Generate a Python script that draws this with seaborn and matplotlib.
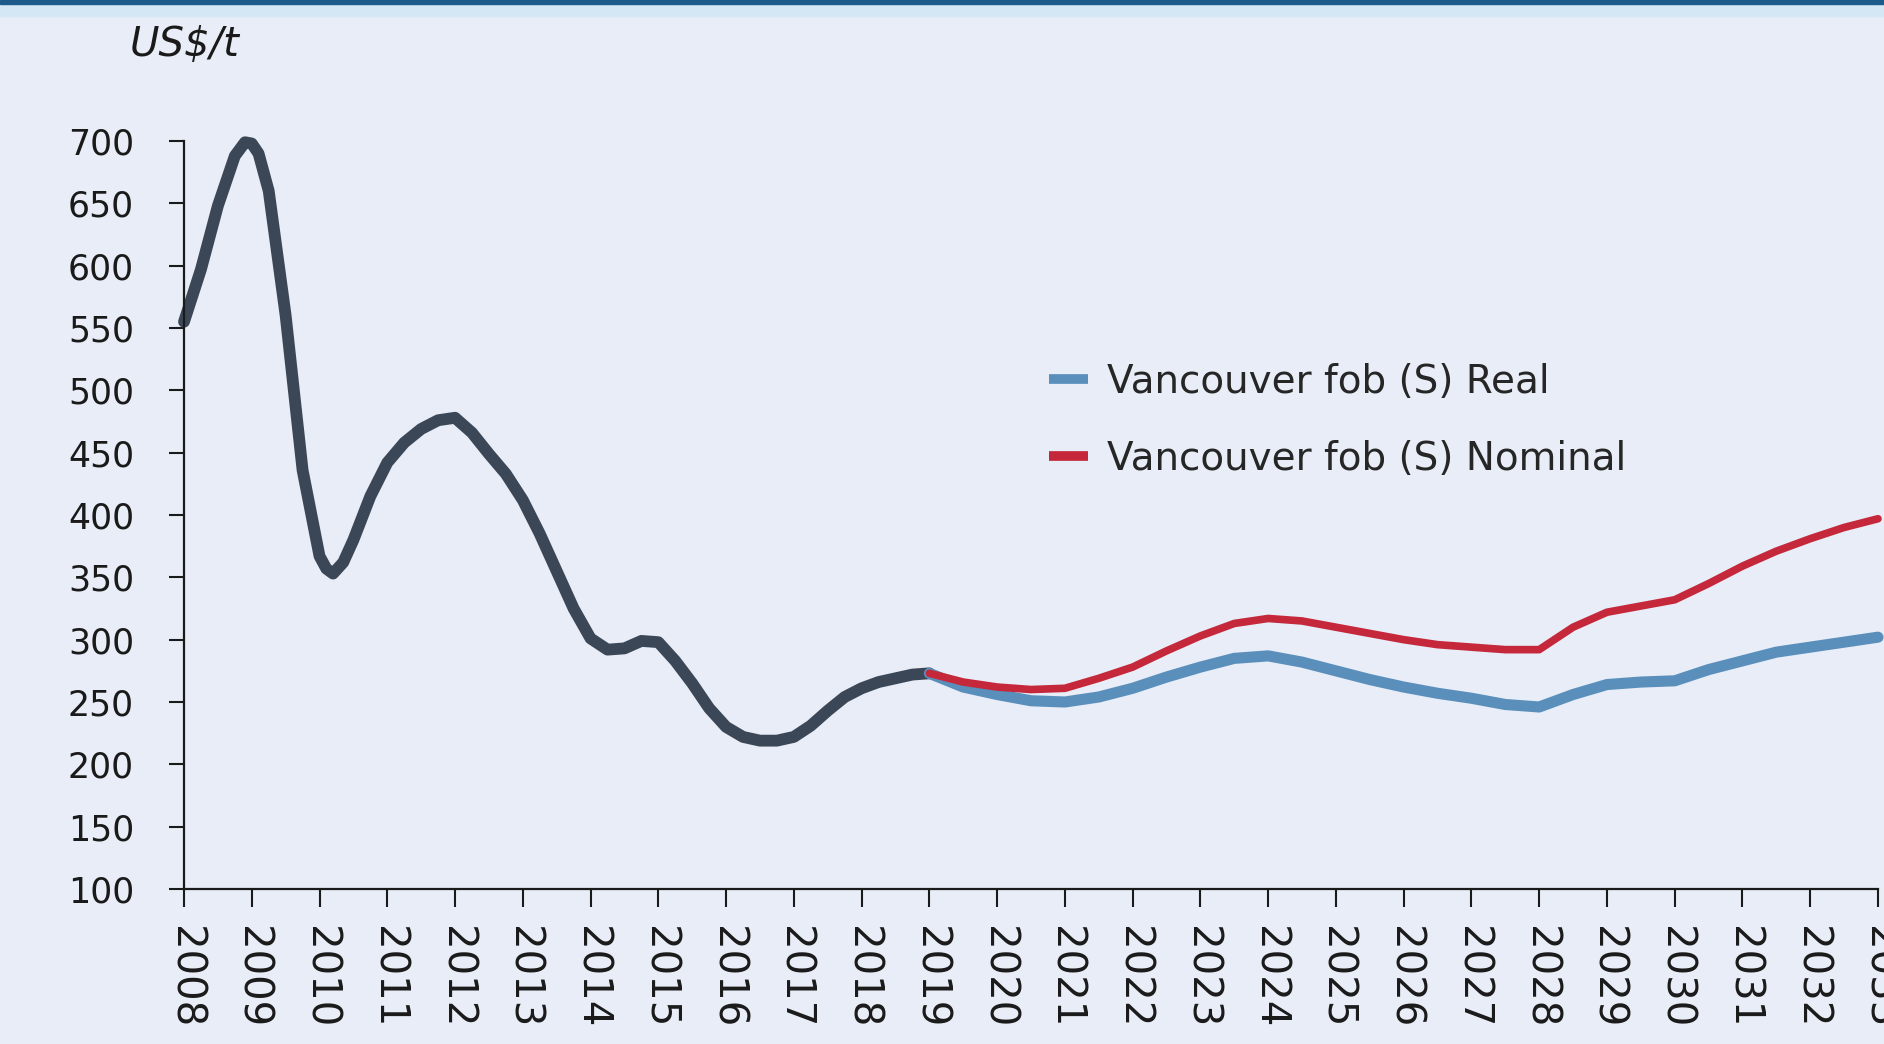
import numpy as np
import pandas as pd
import matplotlib
matplotlib.use('Agg')
import matplotlib.pyplot as plt
import seaborn as sns
from matplotlib.patches import Rectangle

# historical price (roughly quarterly, more points at the turns)
hist_year = [2008.0, 2008.25, 2008.5, 2008.75, 2008.9, 2009.0, 2009.1, 2009.25, 2009.5, 2009.75,
             2010.0, 2010.1, 2010.2, 2010.35, 2010.5, 2010.75, 2011.0, 2011.25, 2011.5, 2011.75,
             2012.0, 2012.25, 2012.5, 2012.75, 2013.0, 2013.25, 2013.5, 2013.75,
             2014.0, 2014.25, 2014.5, 2014.75, 2015.0, 2015.25, 2015.5, 2015.75,
             2016.0, 2016.25, 2016.5, 2016.75, 2017.0, 2017.25, 2017.5, 2017.75,
             2018.0, 2018.25, 2018.5, 2018.75, 2019.0]
hist_price = [555, 597, 648, 688, 699, 698, 690, 660, 560, 436,
              367, 357, 353, 362, 380, 415, 442, 458, 469, 476,
              478, 466, 449, 433, 412, 385, 355, 325,
              301, 292, 293, 299, 298, 283, 265, 245,
              230, 222, 219, 219, 222, 231, 243, 254,
              261, 266, 269, 272, 273]

# forecast (half-yearly)
fc_year = [2019.0, 2019.5, 2020.0, 2020.5, 2021.0, 2021.5, 2022.0, 2022.5,
           2023.0, 2023.5, 2024.0, 2024.5, 2025.0, 2025.5, 2026.0, 2026.5,
           2027.0, 2027.5, 2028.0, 2028.5, 2029.0, 2029.5, 2030.0, 2030.5,
           2031.0, 2031.5, 2032.0, 2032.5, 2033.0]
real_price = [273, 262, 256, 251, 250, 254, 261, 270,
              278, 285, 287, 282, 275, 268, 262, 257,
              253, 248, 246, 256, 264, 266, 267, 276,
              283, 290, 294, 298, 302]
nominal_price = [273, 266, 262, 260, 261, 269, 278, 291,
                 303, 313, 317, 315, 310, 305, 300, 296,
                 294, 292, 292, 310, 322, 327, 332, 345,
                 359, 371, 381, 390, 397]

years = list(range(2008, 2034))
yticks = list(range(100, 701, 50))

hist = pd.DataFrame({'year': hist_year, 'price': hist_price})
real = pd.DataFrame({'year': fc_year, 'price': real_price})
nominal = pd.DataFrame({'year': fc_year, 'price': nominal_price})

bg = '#e8edf7'
sns.set_theme(style='ticks')
plt.rcParams['font.family'] = ['DejaVu Sans']

fig = plt.figure(figsize=(18.84, 10.44), dpi=100, facecolor=bg)
ax = fig.add_axes([184 / 1884, 1 - 889 / 1044, 1694 / 1884, 748 / 1044])
ax.set_facecolor(bg)

# header band
fig.patches.append(Rectangle((0, 1 - 16 / 1044), 1, 16 / 1044, transform=fig.transFigure,
                             color='#d3e7f5', zorder=0))
fig.patches.append(Rectangle((0, 1 - 4 / 1044), 1, 4 / 1044, transform=fig.transFigure,
                             color='#1b5a8a', zorder=1))

sns.lineplot(data=hist, x='year', y='price', ax=ax, color='#3b4757', lw=8.5,
             solid_capstyle='round', solid_joinstyle='round')
sns.lineplot(data=real, x='year', y='price', ax=ax, color='#5a8fbc', lw=8,
             solid_capstyle='round', solid_joinstyle='round', label='Vancouver fob (S) Real')
sns.lineplot(data=nominal, x='year', y='price', ax=ax, color='#c4283a', lw=5.5,
             solid_capstyle='round', solid_joinstyle='round', label='Vancouver fob (S) Nominal')
for ln in ax.lines:
    ln.set_clip_on(False)

ax.set_xlim(2008, 2033)
ax.set_ylim(100, 700)
ax.set_xticks(years)
ax.set_xticklabels([str(y) for y in years], rotation=270, fontsize=29)
ax.set_yticks(yticks)
ax.set_yticklabels([str(v) for v in yticks], fontsize=25)
ax.set_xlabel('')
ax.set_ylabel('')
sns.despine(ax=ax)
for s in ['left', 'bottom']:
    ax.spines[s].set_linewidth(1.6)
    ax.spines[s].set_color('#1a1a1a')
ax.tick_params(axis='y', length=11, width=1.5, pad=25, colors='#1a1a1a')
ax.tick_params(axis='x', length=13, width=1.5, pad=14, colors='#1a1a1a')
ax.grid(False)

leg = ax.legend(loc='upper left', bbox_to_anchor=(0.49, 0.75), frameon=False,
                handlelength=1.0, handletextpad=0.5, labelspacing=1.0,
                prop={'size': 28})
for h in leg.get_lines():
    h.set_linewidth(7)
    h.set_solid_capstyle('butt')

fig.text(130 / 1884, 1 - 45 / 1044, 'US$/t', style='italic', fontsize=29,
         va='center', color='#1a1a1a')

fig.savefig('out.png', dpi=100, facecolor=bg)
